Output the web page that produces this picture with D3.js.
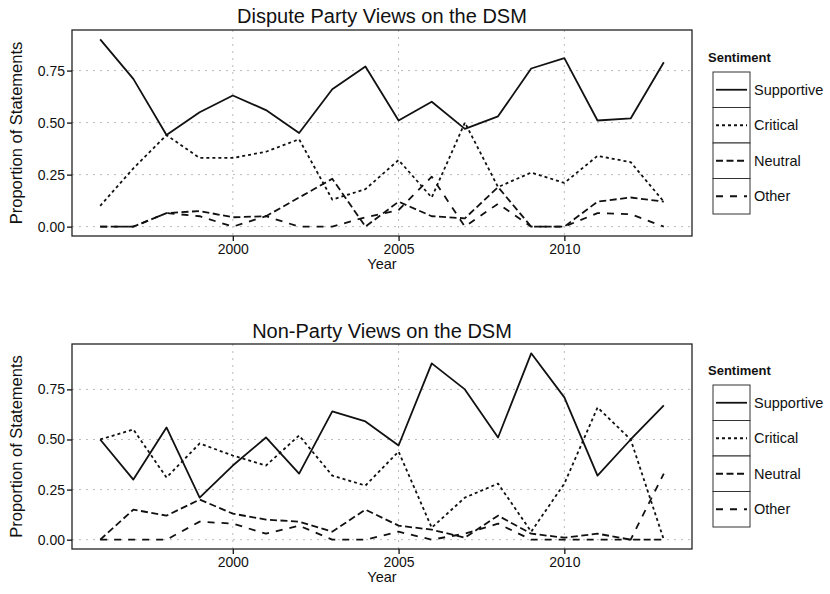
<!DOCTYPE html>
<html><head><meta charset="utf-8">
<script src="https://cdn.jsdelivr.net/npm/d3@7"></script>
<style>
body{margin:0;background:#fff}
text{font-family:"Liberation Sans",Arial,Helvetica,sans-serif;fill:#111}
</style>
</head><body>
<svg id="chart" width="830" height="594"></svg>
<script>
// ---------- data ----------
const years = [1996,1997,1998,1999,2000,2001,2002,2003,2004,2005,2006,2007,2008,2009,2010,2011,2012,2013];
const sentiments = ["Supportive","Critical","Neutral","Other"];

const disputeSupportive = [0.90,0.71,0.44,0.55,0.63,0.56,0.45,0.66,0.77,0.51,0.60,0.47,0.53,0.76,0.81,0.51,0.52,0.79];
const disputeCritical   = [0.10,0.28,0.44,0.33,0.33,0.36,0.42,0.13,0.18,0.32,0.14,0.50,0.19,0.26,0.21,0.34,0.31,0.12];
const disputeNeutral    = [0.00,0.00,0.065,0.075,0.045,0.05,0.14,0.23,0.00,0.12,0.05,0.04,0.19,0.00,0.00,0.12,0.14,0.12];
const disputeOther      = [0.00,0.00,0.065,0.05,0.00,0.05,0.00,0.00,0.045,0.08,0.24,0.00,0.11,0.00,0.00,0.065,0.06,0.00];

const nonPartySupportive = [0.50,0.30,0.56,0.21,0.37,0.51,0.33,0.64,0.59,0.47,0.88,0.75,0.51,0.93,0.71,0.32,0.50,0.67];
const nonPartyCritical   = [0.50,0.55,0.31,0.48,0.42,0.37,0.52,0.32,0.27,0.44,0.06,0.21,0.28,0.04,0.28,0.66,0.50,0.00];
const nonPartyNeutral    = [0.00,0.15,0.12,0.20,0.13,0.10,0.09,0.04,0.15,0.07,0.05,0.01,0.12,0.03,0.01,0.03,0.00,0.00];
const nonPartyOther      = [0.00,0.00,0.00,0.09,0.08,0.03,0.07,0.00,0.00,0.04,0.00,0.03,0.08,0.00,0.00,0.00,0.00,0.33];

const xTickValues = [2000,2005,2010];
const yTickValues = [0,0.25,0.5,0.75];
const yTickLabels = ["0.00","0.25","0.50","0.75"];

const panelTitles = ["Dispute Party Views on the DSM","Non-Party Views on the DSM"];
const xTitle = "Year", yTitle = "Proportion of Statements", legendTitle = "Sentiment";

// ---------- styles ----------
const dashes = {"Supportive":null,"Critical":"3,3","Neutral":"7,3.5","Other":"7,7"};

const svg = d3.select("#chart");

function drawPanel(cfg){
  const {title, series, top, bottom, titleY, legendTop} = cfg;
  const left = 72, right = 692;
  const span = years[years.length-1]-years[0];
  const x = d3.scaleLinear()
    .domain([years[0]-0.05*span, years[years.length-1]+0.05*span])
    .range([left,right]);
  const maxV = d3.max(series, s=>d3.max(s.values));
  const y = d3.scaleLinear().domain([-0.05*maxV, maxV*1.05]).range([bottom, top]);

  const g = svg.append("g");

  // grid
  g.append("g").selectAll("line").data(yTickValues).join("line")
    .attr("x1",left).attr("x2",right).attr("y1",d=>y(d)).attr("y2",d=>y(d))
    .attr("stroke","#aaa").attr("stroke-width",0.8).attr("stroke-dasharray","2,5");
  g.append("g").selectAll("line").data(xTickValues).join("line")
    .attr("y1",top).attr("y2",bottom).attr("x1",d=>x(d)).attr("x2",d=>x(d))
    .attr("stroke","#aaa").attr("stroke-width",0.8).attr("stroke-dasharray","2,5");

  // lines
  const line = d3.line().x((d,i)=>x(years[i])).y(d=>y(d));
  series.forEach(s=>{
    g.append("path").datum(s.values)
      .attr("d",line).attr("fill","none").attr("stroke","#111")
      .attr("stroke-width",1.8).attr("stroke-linejoin","round")
      .attr("stroke-dasharray",dashes[s.name]);
  });

  // border
  g.append("rect").attr("x",left).attr("y",top).attr("width",right-left).attr("height",bottom-top)
    .attr("fill","none").attr("stroke","#222").attr("stroke-width",1.3);

  // axes
  const xAxis = d3.axisBottom(x).tickValues(xTickValues).tickFormat(d3.format("d")).tickSize(5).tickSizeOuter(0);
  const xa = g.append("g").attr("transform",`translate(0,${bottom})`).call(xAxis);
  xa.select(".domain").remove();
  xa.selectAll("line").attr("stroke","#111").attr("stroke-width",1.3);
  xa.selectAll("text").attr("font-size",14).attr("dy","0.75em").attr("y",7).attr("fill","#111");

  const yAxis = d3.axisLeft(y).tickValues(yTickValues).tickFormat((d,i)=>yTickLabels[i]).tickSize(5).tickSizeOuter(0);
  const ya = g.append("g").attr("transform",`translate(${left},0)`).call(yAxis);
  ya.select(".domain").remove();
  ya.selectAll("line").attr("stroke","#111").attr("stroke-width",1.3);
  ya.selectAll("text").attr("font-size",14).attr("x",-7).attr("fill","#111");

  // titles
  g.append("text").attr("x",(left+right)/2).attr("y",titleY).attr("text-anchor","middle")
    .attr("font-size",20).text(title);
  g.append("text").attr("x",(left+right)/2).attr("y",bottom+33).attr("text-anchor","middle")
    .attr("font-size",14.5).text(xTitle);
  g.append("text").attr("transform",`translate(22,${(top+bottom)/2}) rotate(-90)`)
    .attr("text-anchor","middle").attr("font-size",16.5).text(yTitle);

  // legend
  const lg = g.append("g");
  lg.append("text").attr("x",708).attr("y",legendTop-10).attr("font-size",13)
    .attr("font-weight","bold").text(legendTitle);
  const rowH = 35.5, kx = 713, kw = 37;
  sentiments.forEach((name,i)=>{
    const ry = legendTop + i*rowH;
    lg.append("rect").attr("x",kx).attr("y",ry).attr("width",kw).attr("height",rowH)
      .attr("fill","#fff").attr("stroke","#333").attr("stroke-width",1);
    lg.append("line").attr("x1",kx+3).attr("x2",kx+kw-3).attr("y1",ry+rowH/2).attr("y2",ry+rowH/2)
      .attr("stroke","#111").attr("stroke-width",1.8).attr("stroke-dasharray",dashes[name]);
    lg.append("text").attr("x",kx+kw+4).attr("y",ry+rowH/2).attr("dy","0.35em")
      .attr("font-size",14.5).text(name);
  });
}

drawPanel({
  title: panelTitles[0],
  series: [
    {name:"Supportive",values:disputeSupportive},
    {name:"Critical",values:disputeCritical},
    {name:"Neutral",values:disputeNeutral},
    {name:"Other",values:disputeOther}],
  top:30, bottom:236, titleY:23, legendTop:72
});
drawPanel({
  title: panelTitles[1],
  series: [
    {name:"Supportive",values:nonPartySupportive},
    {name:"Critical",values:nonPartyCritical},
    {name:"Neutral",values:nonPartyNeutral},
    {name:"Other",values:nonPartyOther}],
  top:344, bottom:549, titleY:338, legendTop:385
});
</script>
</body></html>
